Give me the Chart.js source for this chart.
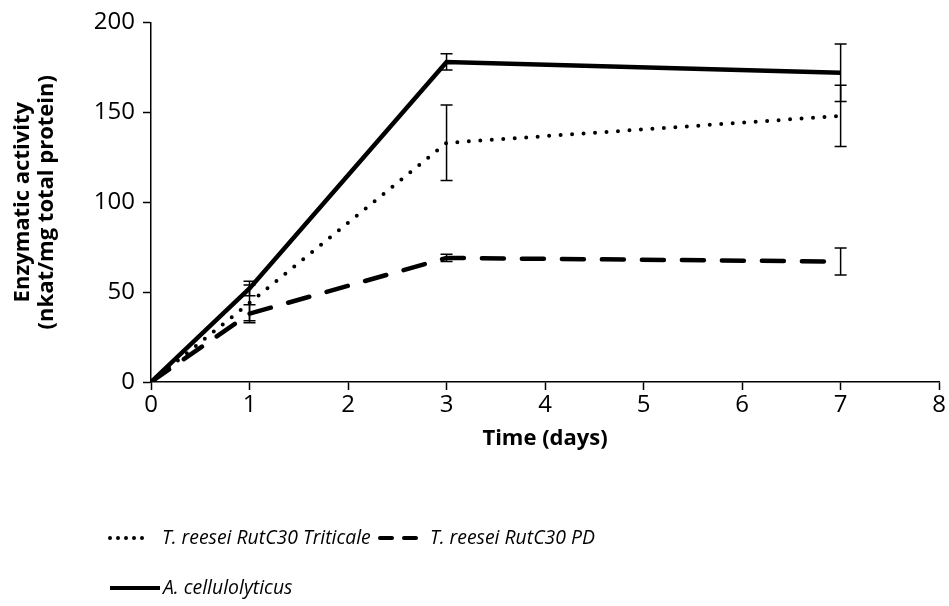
<!DOCTYPE html>
<html lang="en">
<head>
  <meta charset="UTF-8">
  <title>Enzymatic activity over time</title>
  <script src="https://cdn.jsdelivr.net/npm/chart.js"></script>
  <style>
    html, body {
      margin: 0;
      padding: 0;
      background: #fff;
    }
    #wrap {
      width: 949px;
      height: 606px;
    }
  </style>
</head>
<body>
  <div id="wrap"><canvas id="myChart" width="949" height="606"></canvas></div>

  <script>
    // Sampling days
    var days = [0, 1, 3, 7];

    // Activity (nkat/mg total protein) and standard deviations
    var triticale = [0, 44, 133, 148];
    var triticaleErr = [0, 10, 21, 17];
    var pd = [0, 38, 69, 67];
    var pdErr = [0, 5, 2, 7.5];
    var cellulolyticus = [0, 52, 178, 172];
    var cellulolyticusErr = [0, 4, 4.5, 16];

    var seriesNames = ['T. reesei RutC30 Triticale', 'T. reesei RutC30 PD', 'A. cellulolyticus'];

    var FONT = "'Open Sans', sans-serif";

    function points(values) {
      return days.map(function (d, i) { return { x: d, y: values[i] }; });
    }

    // vertical error bars with caps
    var errorBars = {
      id: 'errorBars',
      afterDatasetsDraw: function (chart) {
        var ctx = chart.ctx;
        var xs = chart.scales.x, ys = chart.scales.y;
        ctx.save();
        ctx.strokeStyle = '#000';
        ctx.lineWidth = 1.5;
        chart.data.datasets.forEach(function (ds) {
          ds.data.forEach(function (p, i) {
            var e = ds.errors[i];
            if (!e) return;
            var px = xs.getPixelForValue(p.x);
            var top = ys.getPixelForValue(p.y + e);
            var bot = ys.getPixelForValue(p.y - e);
            ctx.beginPath();
            ctx.moveTo(px, top); ctx.lineTo(px, bot);
            ctx.moveTo(px - 6, top); ctx.lineTo(px + 6, top);
            ctx.moveTo(px - 6, bot); ctx.lineTo(px + 6, bot);
            ctx.stroke();
          });
        });
        ctx.restore();
      }
    };

    // legend under the axis title, two rows like the original figure
    var lineLegend = {
      id: 'lineLegend',
      afterDraw: function (chart) {
        var ctx = chart.ctx;
        var rows = [
          [{ ds: 0, x: 108, w: 42, tx: 162, dash: [0, 8] },
           { ds: 1, x: 378, w: 42, tx: 430, dash: [12, 12] }],
          [{ ds: 2, x: 108, w: 52, tx: 163, dash: [] }]
        ];
        var rowY = [538, 588];
        ctx.save();
        ctx.font = 'italic 19.4px ' + FONT;
        ctx.textBaseline = 'middle';
        ctx.fillStyle = '#000';
        rows.forEach(function (row, r) {
          row.forEach(function (item) {
            var ds = chart.data.datasets[item.ds];
            var y = rowY[r];
            ctx.beginPath();
            ctx.strokeStyle = '#000';
            ctx.lineWidth = 4;
            ctx.lineCap = item.dash.length ? 'round' : 'butt';
            ctx.setLineDash(item.dash);
            ctx.moveTo(item.x + 2, y);
            ctx.lineTo(item.x + item.w, y);
            ctx.stroke();
            ctx.setLineDash([]);
            ctx.fillText(ds.label, item.tx, y);
          });
        });
        ctx.restore();
      }
    };

    var ctx = document.getElementById('myChart').getContext('2d');
    Chart.defaults.color = '#000';
    Chart.defaults.font.family = FONT;

    var myChart = new Chart(ctx, {
      type: 'line',
      data: {
        datasets: [{
          label: seriesNames[0],
          data: points(triticale),
          errors: triticaleErr,
          borderColor: '#000',
          borderWidth: 4,
          borderDash: [0, 11.5],
          borderCapStyle: 'round',
          pointRadius: 0
        }, {
          label: seriesNames[1],
          data: points(pd),
          errors: pdErr,
          borderColor: '#000',
          borderWidth: 4.5,
          borderDash: [22, 18],
          borderCapStyle: 'round',
          pointRadius: 0
        }, {
          label: seriesNames[2],
          data: points(cellulolyticus),
          errors: cellulolyticusErr,
          borderColor: '#000',
          borderWidth: 4.5,
          pointRadius: 0
        }]
      },
      options: {
        responsive: false,
        animation: false,
        layout: { padding: { top: 11, right: 1, left: 0, bottom: 0 } },
        plugins: {
          legend: { display: false },
          tooltip: { enabled: false }
        },
        scales: {
          x: {
            type: 'linear',
            min: 0,
            max: 8,
            afterFit: function (scale) { scale.height = 224; },
            ticks: { stepSize: 1, padding: 3, font: { size: 24, lineHeight: 1.05 } },
            grid: { drawOnChartArea: false, tickLength: 8, color: '#000', tickWidth: 1.5 },
            border: { color: '#000', width: 1.5 },
            title: {
              display: true,
              text: 'Time (days)',
              font: { size: 22, weight: 'bold' },
              padding: { top: 0, bottom: 154 }
            }
          },
          y: {
            min: 0,
            max: 200,
            afterFit: function (scale) { scale.width = 151; },
            ticks: { stepSize: 50, padding: 8, font: { size: 24 } },
            grid: { drawOnChartArea: false, tickLength: 8, color: '#000', tickWidth: 1.5 },
            border: { color: '#000', width: 1.5 },
            title: {
              display: true,
              text: ['Enzymatic activity', '(nkat/mg total protein)'],
              font: { size: 22, weight: 'bold', lineHeight: 1.12 },
              padding: { top: 10, bottom: 0 }
            }
          }
        }
      },
      plugins: [errorBars, lineLegend]
    });
  </script>
</body>
</html>
